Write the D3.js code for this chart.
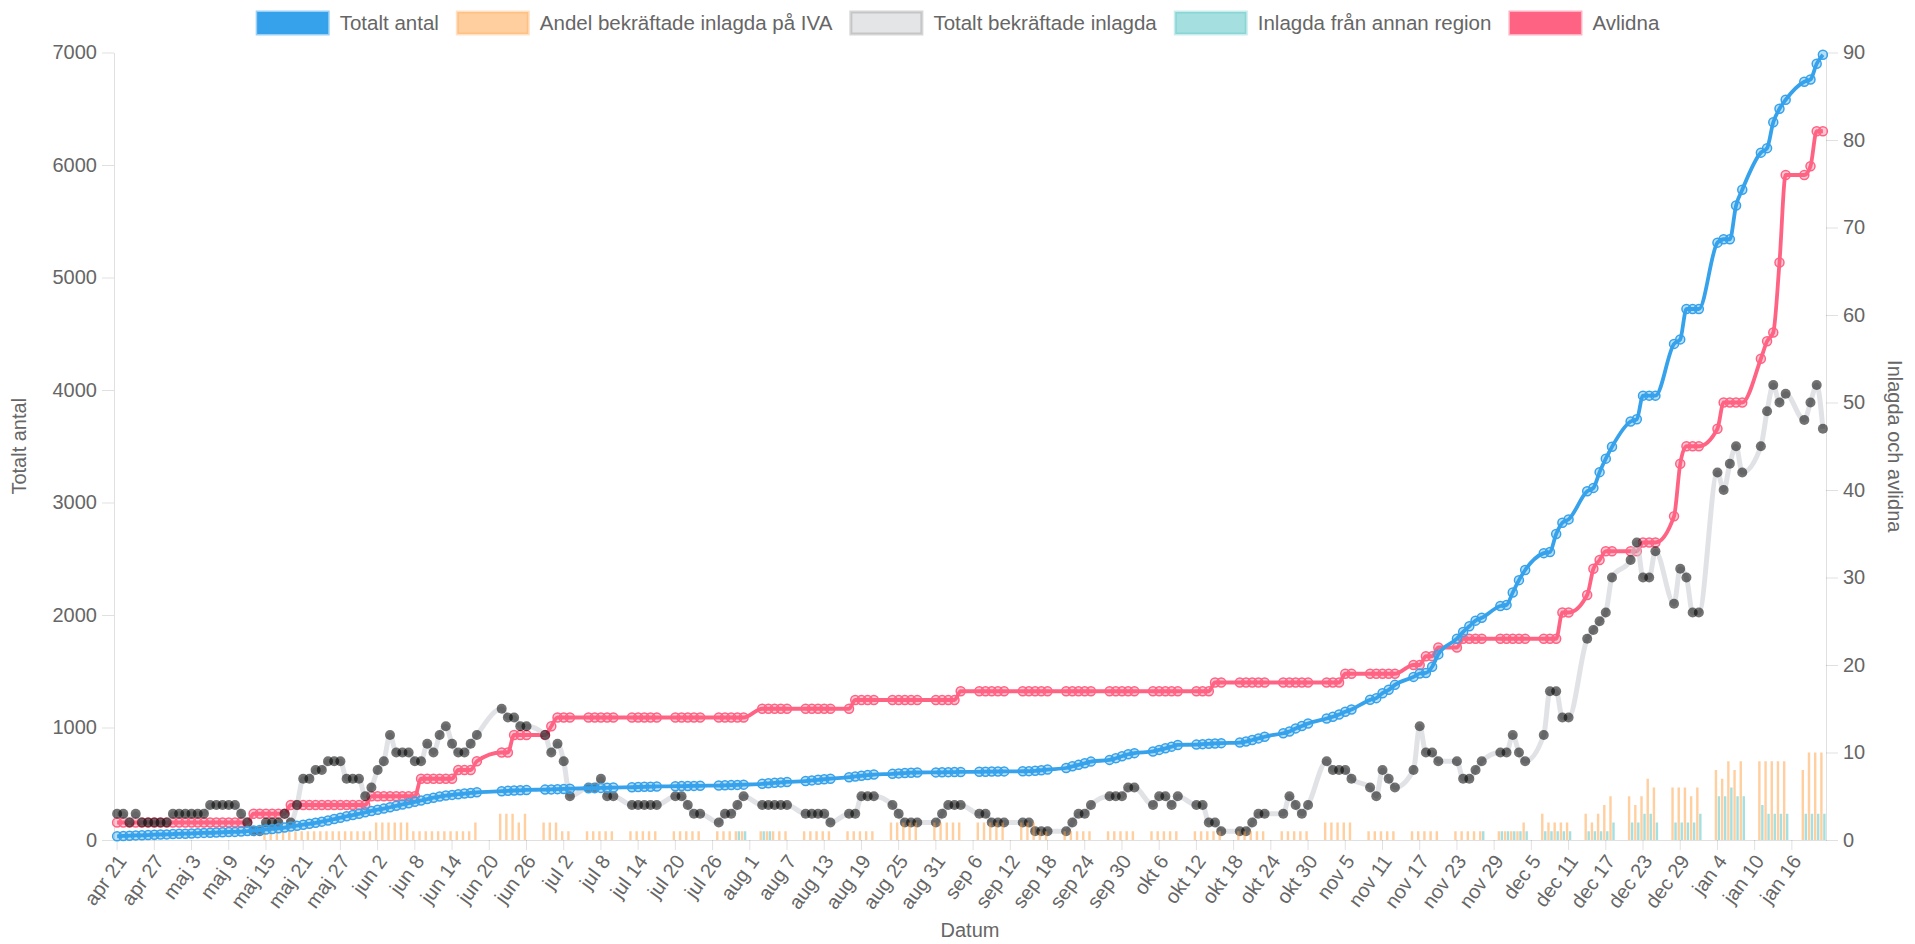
<!DOCTYPE html>
<html>
<head>
<meta charset="utf-8">
<script src="https://cdn.jsdelivr.net/npm/d3@7"></script>
<style>
  body { margin: 0; background: #fff; }
  svg text { font-family: "Liberation Sans", Arial, sans-serif; fill: #666; }
</style>
</head>
<body>
<div id="chart"></div>
<script>
var n = null;

// categories: one per day, apr 21 2020 - jan 21 2021
var days = d3.timeDay.range(new Date(2020, 3, 21), new Date(2021, 0, 22));

var tickLabels = ['apr 21','apr 27','maj 3','maj 9','maj 15','maj 21','maj 27','jun 2','jun 8','jun 14',
  'jun 20','jun 26','jul 2','jul 8','jul 14','jul 20','jul 26','aug 1','aug 7','aug 13','aug 19','aug 25',
  'aug 31','sep 6','sep 12','sep 18','sep 24','sep 30','okt 6','okt 12','okt 18','okt 24','okt 30',
  'nov 5','nov 11','nov 17','nov 23','nov 29','dec 5','dec 11','dec 17','dec 23','dec 29','jan 4',
  'jan 10','jan 16'];

var leftTicks = [0, 1000, 2000, 3000, 4000, 5000, 6000, 7000];
var rightTicks = [0, 10, 20, 30, 40, 50, 60, 70, 80, 90];

// rows of 7 days, tue..mon
var totaltAntal = [
  33,36,38,41,42,44,47,  49,50,53,55,56,58,61,  63,64,66,69,71,72,75,  79,84,89,94,98,104,111,
  119,127,136,144,153,163,174,  186,198,211,222,233,246,258,  269,279,291,304,316,327,339,
  351,364,376,386,395,401,407,  413,418,424,n,n,n,434,  437,440,442,445,n,n,448,
  450,452,454,456,n,n,460,  461,463,464,466,n,n,469,  471,473,474,476,n,n,478,
  479,480,481,482,n,n,484,  486,488,490,492,n,n,499,  504,508,512,516,n,n,524,
  530,535,540,545,n,n,558,  565,571,577,582,n,n,588,  592,595,598,600,n,n,601,
  602,603,604,605,n,n,606,  607,608,609,610,n,n,611,  612,615,620,626,n,n,640,
  655,668,682,697,n,n,712,  727,745,762,772,n,n,787,  801,815,830,845,n,n,848,
  852,855,858,861,n,n,866,  875,889,903,918,n,n,949,  964,992,1013,1036,n,n,1080,
  1095,1115,1140,1160,n,n,1246,  1261,1305,1335,1379,n,n,1450,  1480,1485,1540,1650,n,n,1790,
  1850,1900,1950,1975,n,n,2080,  2090,2200,2310,2400,n,n,2550,  2560,2720,2820,2850,n,n,3100,
  3130,3270,3390,3495,n,n,3720,  3740,3950,3950,3950,n,n,4410,  4450,4720,4720,4720,n,n,5310,
  5340,5340,5640,5780,n,n,6110,  6150,6380,6500,6580,n,n,6740,  6760,6900,6980
];

var andelIva = [
  n,n,n,n,n,n,n,  n,n,n,n,n,n,n,  n,n,n,n,n,n,n,  n,n,n,1,1,1,1,
  1,1,1,1,1,1,1,  1,1,1,1,1,1,1,  2,2,2,2,2,2,1,  1,1,1,1,1,1,1,
  1,1,2,n,n,n,3,  3,3,2,3,n,n,2,  2,2,1,1,n,n,1,  1,1,1,1,n,n,1,
  1,1,1,1,n,n,1,  1,1,1,1,n,n,1,  1,1,1,1,n,n,1,  1,1,1,1,n,n,1,
  1,1,1,1,n,n,1,  1,1,1,1,n,n,2,  2,2,2,2,n,n,2,  2,2,2,2,n,n,2,
  2,2,2,2,n,n,2,  2,2,1,1,n,n,1,  1,1,1,1,n,n,1,  1,1,1,1,n,n,1,
  1,1,1,1,n,n,1,  1,1,1,1,n,n,1,  1,1,1,1,n,n,1,  1,1,1,1,n,n,2,
  2,2,2,2,n,n,1,  1,1,1,1,n,n,1,  1,1,1,1,n,n,1,  1,1,1,1,n,n,1,
  1,1,1,2,n,n,3,  2,2,2,2,n,n,3,  2,3,4,5,n,n,5,  4,5,7,6,n,n,6,
  6,6,5,6,n,n,8,  7,9,8,9,n,n,9,  9,9,9,9,n,n,8,  10,10,10
];

var totaltInlagda = [
  3,3,2,3,2,2,2,  2,2,3,3,3,3,3,  3,4,4,4,4,4,3,  2,1,1,2,2,2,3,
  2,4,7,7,8,8,9,  9,9,7,7,7,5,6,  8,9,12,10,10,10,9,  9,11,10,12,13,11,10,
  10,11,12,n,n,n,15,  14,14,13,13,n,n,12,  10,11,9,5,n,n,6,  6,7,5,5,n,n,4,
  4,4,4,4,n,n,5,  5,4,3,3,n,n,2,  3,3,4,5,n,n,4,  4,4,4,4,n,n,3,
  3,3,3,2,n,n,3,  3,5,5,5,n,n,4,  3,2,2,2,n,n,2,  3,4,4,4,n,n,3,
  3,2,2,2,n,n,2,  2,1,1,1,n,n,1,  2,3,3,4,n,n,5,  5,5,6,6,n,n,4,
  5,5,4,5,n,n,4,  4,2,2,1,n,n,1,  1,2,3,3,n,n,3,  5,4,3,4,n,n,9,
  8,8,8,7,n,n,6,  5,8,7,6,n,n,8,  13,10,10,9,n,n,9,  7,7,8,9,n,n,10,
  10,12,10,9,n,n,12,  17,17,14,14,n,n,23,  24,25,26,30,n,n,32,  34,30,30,33,n,n,27,
  31,30,26,26,n,n,42,  40,43,45,42,n,n,45,  49,52,50,51,n,n,48,  50,52,47
];

var annanRegion = [
  n,n,n,n,n,n,n,  n,n,n,n,n,n,n,  n,n,n,n,n,n,n,  n,n,n,n,n,n,n,
  n,n,n,n,n,n,n,  n,n,n,n,n,n,n,  n,n,n,n,n,n,n,  n,n,n,n,n,n,n,
  n,n,n,n,n,n,n,  n,n,n,n,n,n,n,  n,n,n,n,n,n,n,  n,n,n,n,n,n,n,
  n,n,n,n,n,n,n,  n,n,n,n,n,n,n,  n,n,1,1,n,n,1,  1,n,n,n,n,n,n,
  n,n,n,n,n,n,n,  n,n,n,n,n,n,n,  n,n,n,n,n,n,n,  n,n,n,n,n,n,n,
  n,n,n,n,n,n,n,  n,n,n,n,n,n,n,  n,n,n,n,n,n,n,  n,n,n,n,n,n,n,
  n,n,n,n,n,n,n,  n,n,n,n,n,n,n,  n,n,n,n,n,n,n,  n,n,n,n,n,n,n,
  n,n,n,n,n,n,n,  n,n,n,n,n,n,n,  n,n,n,n,n,n,n,  n,n,n,1,n,n,1,
  1,1,1,1,n,n,1,  1,1,1,1,n,n,1,  1,1,1,2,n,n,2,  2,3,3,2,n,n,2,
  2,2,2,3,n,n,5,  5,6,5,5,n,n,4,  3,3,3,3,n,n,3,  3,3,3
];

var avlidna = [
  2,2,2,2,2,2,2,  2,2,2,2,2,2,2,  2,2,2,2,2,2,2,  2,3,3,3,3,3,3,
  4,4,4,4,4,4,4,  4,4,4,4,4,4,5,  5,5,5,5,5,5,5,  7,7,7,7,7,7,8,
  8,8,9,n,n,n,10,  10,12,12,12,n,n,12,  13,14,14,14,n,n,14,  14,14,14,14,n,n,14,
  14,14,14,14,n,n,14,  14,14,14,14,n,n,14,  14,14,14,14,n,n,15,  15,15,15,15,n,n,15,
  15,15,15,15,n,n,15,  16,16,16,16,n,n,16,  16,16,16,16,n,n,16,  16,16,16,17,n,n,17,
  17,17,17,17,n,n,17,  17,17,17,17,n,n,17,  17,17,17,17,n,n,17,  17,17,17,17,n,n,17,
  17,17,17,17,n,n,17,  17,17,18,18,n,n,18,  18,18,18,18,n,n,18,  18,18,18,18,n,n,18,
  18,18,19,19,n,n,19,  19,19,19,19,n,n,20,  20,21,21,22,n,n,22,  23,23,23,23,n,n,23,
  23,23,23,23,n,n,23,  23,23,26,26,n,n,28,  31,32,33,33,n,n,33,  33,34,34,34,n,n,37,
  43,45,45,45,n,n,47,  50,50,50,50,n,n,55,  57,58,66,76,n,n,76,  77,81,81
];

var W = 1915, H = 944;
var plotLeft = 114, plotRight = 1826, plotTop = 52.5, plotBottom = 840;

var svg = d3.select('#chart').append('svg')
  .attr('width', W)
  .attr('height', H);

var x = d3.scaleBand().domain(d3.range(days.length)).range([plotLeft, plotRight]);
var cx = function(i){ return x(i) + x.bandwidth() / 2; };
var yLeft = d3.scaleLinear().domain([0, 7000]).range([plotBottom, plotTop]);
var yRight = d3.scaleLinear().domain([0, 90]).range([plotBottom, plotTop]);

var gridColor = 'rgba(0,0,0,0.12)';
var fontSize = 20;

// axes
var gl = svg.append('g').attr('transform', 'translate(' + plotLeft + ',0)')
  .call(d3.axisLeft(yLeft).tickValues(leftTicks).tickFormat(d3.format('d'))
    .tickSize(12).tickSizeOuter(0).tickPadding(5));
var gr = svg.append('g').attr('transform', 'translate(' + plotRight + ',0)')
  .call(d3.axisRight(yRight).tickValues(rightTicks).tickSize(12).tickSizeOuter(0).tickPadding(5));
var tickIdx = d3.range(0, days.length, 6);
var gb = svg.append('g').attr('transform', 'translate(0,' + plotBottom + ')')
  .call(d3.axisBottom(x).tickValues(tickIdx).tickSize(10).tickSizeOuter(0)
    .tickFormat(function(i){ return tickLabels[i / 6]; }));

[gl, gr, gb].forEach(function(g){
  g.selectAll('path.domain').attr('stroke', gridColor);
  g.selectAll('.tick line').attr('stroke', gridColor);
  g.selectAll('text').attr('font-size', fontSize).attr('fill', '#666')
    .attr('font-family', '"Liberation Sans", Arial, sans-serif');
});
gb.selectAll('.tick text')
  .attr('text-anchor', 'end')
  .attr('dy', '0.3em')
  .attr('transform', 'translate(-5,10) rotate(-54)');

// axis titles
svg.append('text')
  .attr('transform', 'translate(26,' + ((plotTop + plotBottom) / 2) + ') rotate(-90)')
  .attr('text-anchor', 'middle')
  .attr('font-size', fontSize)
  .text('Totalt antal');
svg.append('text')
  .attr('transform', 'translate(1888,' + ((plotTop + plotBottom) / 2) + ') rotate(90)')
  .attr('text-anchor', 'middle')
  .attr('font-size', fontSize)
  .text('Inlagda och avlidna');
svg.append('text')
  .attr('x', (plotLeft + plotRight) / 2)
  .attr('y', 937)
  .attr('text-anchor', 'middle')
  .attr('font-size', fontSize)
  .text('Datum');

function points(values){
  return values.map(function(v, i){ return {i: i, v: v}; })
    .filter(function(d){ return d.v !== null; });
}
function linePath(values, y){
  return d3.line()
    .x(function(d){ return cx(d.i); })
    .y(function(d){ return y(d.v); })
    .curve(d3.curveMonotoneX)(points(values));
}

var plot = svg.append('g');

// draw order like chart.js: last dataset first
// Avlidna
plot.append('path')
  .attr('d', linePath(avlidna, yRight))
  .attr('fill', 'none')
  .attr('stroke', '#FF6384')
  .attr('stroke-width', 3.8);
plot.append('g').selectAll('circle')
  .data(points(avlidna)).enter().append('circle')
  .attr('cx', function(d){ return cx(d.i); })
  .attr('cy', function(d){ return yRight(d.v); })
  .attr('r', 4.5)
  .attr('fill', 'rgba(255,99,132,0.35)')
  .attr('stroke', '#FF6384')
  .attr('stroke-width', 1.5);

// Inlagda från annan region
var bw = 2.4;
plot.append('g').selectAll('rect')
  .data(points(annanRegion)).enter().append('rect')
  .attr('x', function(d){ return cx(d.i) + 0.3; })
  .attr('y', function(d){ return yRight(d.v); })
  .attr('width', bw)
  .attr('height', function(d){ return plotBottom - yRight(d.v); })
  .attr('fill', 'rgba(75,192,192,0.5)');

// Totalt bekräftade inlagda
plot.append('path')
  .attr('d', linePath(totaltInlagda, yRight))
  .attr('fill', 'none')
  .attr('stroke', 'rgba(201,203,207,0.55)')
  .attr('stroke-width', 5);
plot.append('g').selectAll('circle')
  .data(points(totaltInlagda)).enter().append('circle')
  .attr('cx', function(d){ return cx(d.i); })
  .attr('cy', function(d){ return yRight(d.v); })
  .attr('r', 5)
  .attr('fill', 'rgba(0,0,0,0.55)');

// Andel bekräftade inlagda på IVA
plot.append('g').selectAll('rect')
  .data(points(andelIva)).enter().append('rect')
  .attr('x', function(d){ return cx(d.i) - bw - 0.3; })
  .attr('y', function(d){ return yRight(d.v); })
  .attr('width', bw)
  .attr('height', function(d){ return plotBottom - yRight(d.v); })
  .attr('fill', 'rgba(255,159,64,0.5)');

// Totalt antal
plot.append('path')
  .attr('d', linePath(totaltAntal, yLeft))
  .attr('fill', 'none')
  .attr('stroke', '#36A2EB')
  .attr('stroke-width', 3.8);
plot.append('g').selectAll('circle')
  .data(points(totaltAntal)).enter().append('circle')
  .attr('cx', function(d){ return cx(d.i); })
  .attr('cy', function(d){ return yLeft(d.v); })
  .attr('r', 4.5)
  .attr('fill', 'rgba(54,162,235,0.35)')
  .attr('stroke', '#36A2EB')
  .attr('stroke-width', 1.5);

// LEGEND
var legendItems = [
  {label: 'Totalt antal', fill: '#36A2EB', stroke: 'rgba(54,162,235,0.5)'},
  {label: 'Andel bekräftade inlagda på IVA', fill: 'rgba(255,159,64,0.5)', stroke: 'rgba(255,159,64,0.3)'},
  {label: 'Totalt bekräftade inlagda', fill: 'rgba(201,203,207,0.5)', stroke: 'rgba(150,150,150,0.4)'},
  {label: 'Inlagda från annan region', fill: 'rgba(75,192,192,0.5)', stroke: 'rgba(75,192,192,0.3)'},
  {label: 'Avlidna', fill: '#FF6384', stroke: 'rgba(255,99,132,0.5)'}
];
var boxW = 74, boxH = 22, boxGap = 10, itemPad = 17, legendY = 23;
var legend = svg.append('g');
var widths = [];
legendItems.forEach(function(item){
  var t = legend.append('text').attr('font-size', 20.5).text(item.label);
  widths.push(t.node().getComputedTextLength());
  t.remove();
});
var total = d3.sum(widths) + legendItems.length * (boxW + boxGap) + (legendItems.length - 1) * itemPad;
var lx = W / 2 - total / 2;
legendItems.forEach(function(item, k){
  legend.append('rect')
    .attr('x', lx + 1.5)
    .attr('y', legendY - boxH / 2)
    .attr('width', boxW - 3)
    .attr('height', boxH)
    .attr('fill', item.fill)
    .attr('stroke', item.stroke)
    .attr('stroke-width', 3);
  legend.append('text')
    .attr('x', lx + boxW + boxGap)
    .attr('y', legendY)
    .attr('dy', '0.35em')
    .attr('font-size', 20.5)
    .text(item.label);
  lx += boxW + boxGap + widths[k] + itemPad;
});
</script>
</body>
</html>
